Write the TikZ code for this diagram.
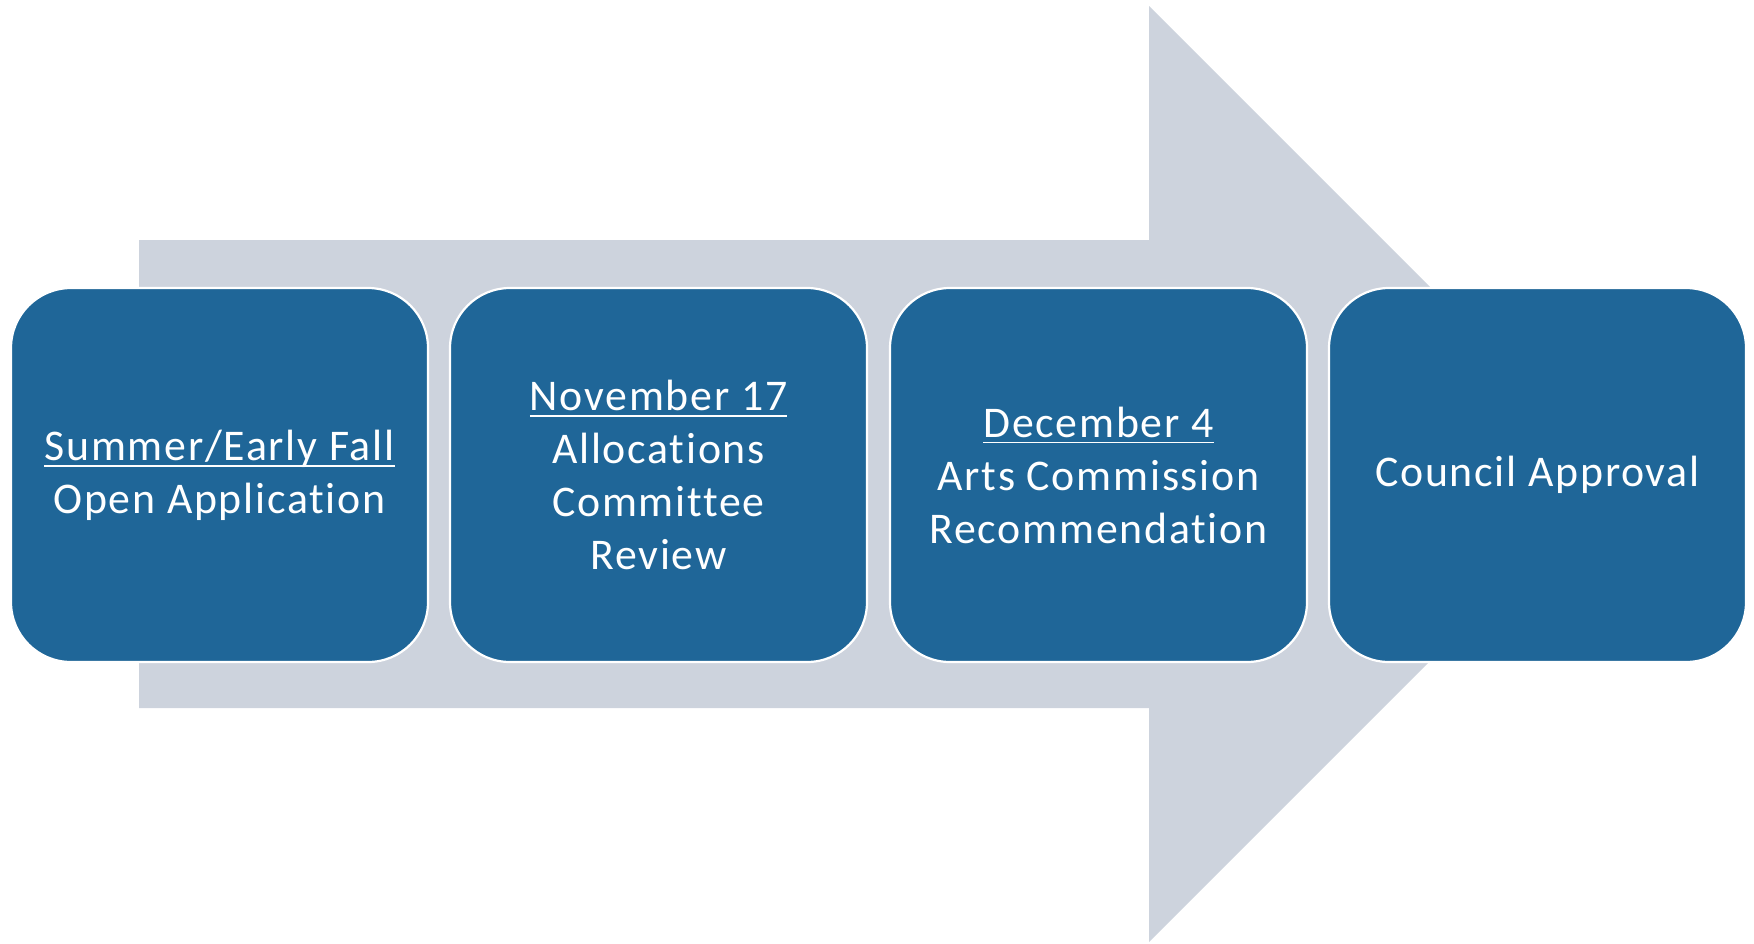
\documentclass[tikz,border=0pt]{standalone}
\usepackage{fontspec}
\setmainfont[LetterSpace=4,Ligatures={NoCommon},RawFeature={-liga;-clig;-dlig}]{Carlito}
\definecolor{boxblue}{RGB}{31,102,152}
\definecolor{arrowgray}{RGB}{205,211,221}
\newcommand\myul[1]{\setbox0\hbox{#1}\rlap{\rule[-3.2pt]{\wd0}{0.9pt}}\box0}
\begin{document}
\begin{tikzpicture}[x=0.5pt,y=-0.5pt,
  stage/.style={draw=white, line width=1.1pt, fill=boxblue, rounded corners=30pt,
    minimum width=208.5pt, minimum height=187pt, inner sep=0pt, text=white,
    align=center, font=\fontsize{21.9}{26.5}\selectfont},
  bigarrow/.style={fill=arrowgray}]
\useasboundingbox (0,0) rectangle (1754,943);
\fill[bigarrow] (139,240) -- (1149,240) -- (1149,6) -- (1617,474) -- (1149,942) -- (1149,708) -- (139,708) -- cycle;
\node[stage] (s1) at (219.5,475) {\myul{Summer/Early Fall}\\Open Application};
\node[stage] (s2) at (658.5,475) {\myul{November 17}\\Allocations\\Committee\\Review};
\node[stage] (s3) at (1098.5,475) {\myul{December 4}\\Arts Commission\\Recommendation};
\node[stage] (s4) at (1537.5,475) {Council Approval};
\end{tikzpicture}
\end{document}
